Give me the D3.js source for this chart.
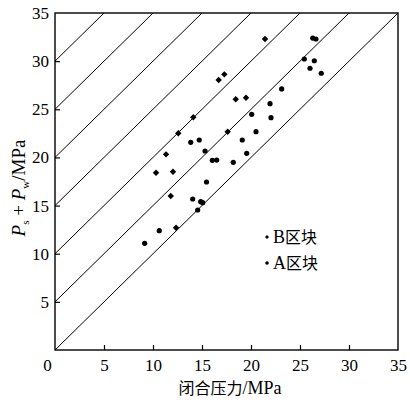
<!DOCTYPE html>
<html>
<head>
<meta charset="utf-8">
<title>闭合压力</title>
<script src="https://d3js.org/d3.v7.min.js"></script>
<style>
  body { margin: 0; background: #fff; }
  svg text { font-family: "Liberation Serif", "DejaVu Serif", "Times New Roman", serif; fill: #000; }
  svg text .cjk { font-family: "Noto Sans CJK SC", sans-serif; }
</style>
</head>
<body>
<div id="chart"></div>
<script>
// ticks
var xTicks = [0, 5, 10, 15, 20, 25, 30, 35];
var yTicks = [5, 10, 15, 20, 25, 30, 35];
// reference lines y = x + c
var offsets = [0, 5, 10, 15, 20, 25, 30];

// B区块 (diamonds)
var bX = [21.43, 16.70, 17.28, 18.44, 19.49, 14.11, 12.58, 17.62, 11.33, 10.31, 12.04, 11.81, 12.35];
var bY = [32.30, 28.04, 28.63, 26.04, 26.20, 24.17, 22.51, 22.67, 20.32, 18.41, 18.52, 15.99, 12.70];

// A区块 (dots)
var aX = [26.30, 26.63, 25.44, 26.46, 26.02, 27.17, 23.13, 21.94, 20.07, 22.04, 20.51, 13.85, 14.72,
          19.11, 15.31, 19.56, 16.05, 16.50, 18.19, 15.46, 14.05, 14.87, 15.07, 14.56, 10.64, 9.15];
var aY = [32.40, 32.30, 30.22, 30.04, 29.26, 28.74, 27.11, 25.58, 24.48, 24.13, 22.67, 21.57, 21.81,
          21.81, 20.67, 20.43, 19.70, 19.73, 19.49, 17.45, 15.68, 15.40, 15.30, 14.54, 12.39, 11.08];

var W = 410, H = 402;
var m = {left: 55, top: 13, right: 12, bottom: 52};
var serif = "'Liberation Serif', 'DejaVu Serif', serif";

var svg = d3.select("#chart").append("svg")
  .attr("width", W)
  .attr("height", H);

var x = d3.scaleLinear().domain([0, 35]).range([m.left, W - m.right]);
var y = d3.scaleLinear().domain([0, 35]).range([H - m.bottom, m.top]);

// clip for diagonal lines
svg.append("clipPath").attr("id", "clip")
  .append("rect")
  .attr("x", x(0)).attr("y", y(35))
  .attr("width", x(35) - x(0)).attr("height", y(0) - y(35));

var g = svg.append("g").attr("clip-path", "url(#clip)");
g.selectAll("line.diag")
  .data(offsets)
  .enter().append("line")
  .attr("class", "diag")
  .attr("x1", x(0)).attr("y1", function (c) { return y(c); })
  .attr("x2", function (c) { return x(35 - c); }).attr("y2", y(35))
  .attr("stroke", "#000")
  .attr("stroke-width", 1);

// axes, ticks pointing inward
var xAxis = svg.append("g")
  .attr("transform", "translate(0," + y(0) + ")")
  .call(d3.axisBottom(x).tickValues(xTicks).tickSizeInner(-5).tickSizeOuter(0).tickPadding(9));
var yAxis = svg.append("g")
  .attr("transform", "translate(" + x(0) + ",0)")
  .call(d3.axisLeft(y).tickValues(yTicks).tickSizeInner(-5).tickSizeOuter(0).tickPadding(6));

[xAxis, yAxis].forEach(function (ax) {
  ax.attr("font-family", serif).attr("font-size", 17);
  ax.select(".domain").remove();
  ax.selectAll("line").attr("stroke", "#000").attr("stroke-width", 1.2);
  ax.selectAll("text").attr("fill", "#000");
});
xAxis.selectAll(".tick").filter(function (d) { return d === 0 || d === 35; }).select("line").remove();
xAxis.selectAll(".tick").filter(function (d) { return d === 0; }).select("text").attr("dx", -8);
yAxis.selectAll(".tick").filter(function (d) { return d === 35; }).select("line").remove();

// frame
svg.append("rect")
  .attr("x", x(0)).attr("y", y(35))
  .attr("width", x(35) - x(0)).attr("height", y(0) - y(35))
  .attr("fill", "none")
  .attr("stroke", "#000")
  .attr("stroke-width", 1.4);

// square diamond marker
function diamondPath(r) {
  return "M0," + (-r) + "L" + r + ",0L0," + r + "L" + (-r) + ",0Z";
}

// points
svg.append("g").selectAll("path")
  .data(d3.range(bX.length))
  .enter().append("path")
  .attr("d", diamondPath(3.2))
  .attr("transform", function (i) { return "translate(" + x(bX[i]) + "," + y(bY[i]) + ")"; })
  .attr("fill", "#000");

svg.append("g").selectAll("circle")
  .data(d3.range(aX.length))
  .enter().append("circle")
  .attr("cx", function (i) { return x(aX[i]); })
  .attr("cy", function (i) { return y(aY[i]); })
  .attr("r", 2.6)
  .attr("fill", "#000");

// legend
var leg = svg.append("g").attr("transform", "translate(267,237)");
leg.append("path").attr("d", diamondPath(2)).attr("fill", "#000");
leg.append("circle").attr("cx", 0).attr("cy", 26).attr("r", 1.8).attr("fill", "#000");
var lt1 = leg.append("text").attr("x", 6).attr("y", 6).attr("font-family", serif).attr("font-size", 18);
lt1.append("tspan").text("B");
lt1.append("tspan").attr("class", "cjk").attr("font-size", 16).text("区块");
var lt2 = leg.append("text").attr("x", 6).attr("y", 32).attr("font-family", serif).attr("font-size", 18);
lt2.append("tspan").text("A");
lt2.append("tspan").attr("class", "cjk").attr("font-size", 16).text("区块");

// x label
var xl = svg.append("text")
  .attr("x", 230).attr("y", 394)
  .attr("text-anchor", "middle")
  .attr("font-family", serif).attr("font-size", 18);
xl.append("tspan").attr("class", "cjk").attr("font-size", 16).text("闭合压力");
xl.append("tspan").text("/MPa");

// y label
var yl = svg.append("text")
  .attr("transform", "translate(25,188) rotate(-90)")
  .attr("text-anchor", "middle")
  .attr("font-family", serif).attr("font-size", 19);
yl.append("tspan").attr("font-style", "italic").text("P");
yl.append("tspan").attr("dy", 4).attr("font-size", 11).text("s");
yl.append("tspan").attr("dy", -4).text(" + ");
yl.append("tspan").attr("font-style", "italic").text("P");
yl.append("tspan").attr("dy", 4).attr("font-size", 11).text("w");
yl.append("tspan").attr("dy", -4).text("/MPa");
</script>
</body>
</html>
